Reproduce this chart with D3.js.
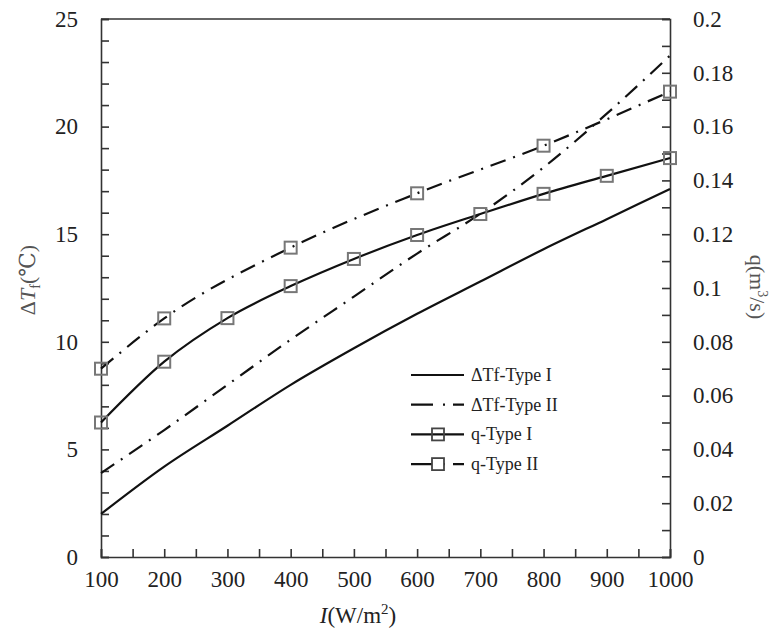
<!DOCTYPE html>
<html>
<head>
<meta charset="utf-8">
<script src="https://cdnjs.cloudflare.com/ajax/libs/d3/7.8.5/d3.min.js"></script>
<style>
  body { margin: 0; background: #fff; }
  svg { font-family: "Liberation Serif", "DejaVu Serif", serif; }
  .tickLabel { font-size: 23px; fill: #222; }
  .legText { font-size: 18px; fill: #222; }
</style>
</head>
<body>
<div id="chart"></div>
<script>
// Data

// Irradiance I (W/m2)
var irr = [100, 200, 300, 400, 500, 600, 700, 800, 900, 1000];

// Temperature rise (left axis)
var dtfType1 = [2.0, 4.2, 6.1, 8.0, 9.7, 11.3, 12.8, 14.3, 15.7, 17.1];
var dtfType2 = [3.9, 5.9, 8.0, 10.1, 12.1, 14.1, 15.95, 18.1, 20.6, 23.3];

// Flow rate (right axis)
var qType1 = [0.050, 0.0726, 0.0888, 0.1007, 0.1108, 0.1197, 0.1275, 0.135, 0.1417, 0.1483];
var irrQ2 = [100, 200, 400, 600, 800, 1000];
var qType2 = [0.070, 0.0887, 0.115, 0.1352, 0.1529, 0.173];

var xTicks = d3.range(100, 1001, 50);
var yLeftTicks = d3.range(0, 26, 1);
var yRightTicks = d3.range(0, 21, 1).map(function(d) { return d / 100; });

var legendNames = ["\u0394Tf-Type I", "\u0394Tf-Type II", "q-Type I", "q-Type II"];

// Layout
var width = 778;
var height = 637;
var plotL = 101, plotR = 670, plotT = 19, plotB = 557;
var tickLen = 8;
var dashDot = "16,8,2,8";

var svg = d3.select("#chart")
  .append("svg")
  .attr("width", width)
  .attr("height", height);

var xScale = d3.scaleLinear().domain([100, 1000]).range([plotL, plotR]);
var yLeft = d3.scaleLinear().domain([0, 25]).range([plotB, plotT]);
var yRight = d3.scaleLinear().domain([0, 0.2]).range([plotB, plotT]);

// Axes (ticks point inward)
var xAxis = d3.axisBottom(xScale)
  .tickValues(xTicks)
  .tickSize(-tickLen)
  .tickPadding(14)
  .tickFormat(function(d) { return d % 100 === 0 ? d : ""; });

var leftAxis = d3.axisLeft(yLeft)
  .tickValues(yLeftTicks)
  .tickSize(-tickLen)
  .tickPadding(23)
  .tickFormat(function(d) { return d % 5 === 0 ? d : ""; });

var rightAxis = d3.axisRight(yRight)
  .tickValues(yRightTicks)
  .tickSize(-tickLen)
  .tickPadding(23)
  .tickFormat(function(d) {
    var k = Math.round(d * 100);
    return k % 2 === 0 ? String(+d.toFixed(2)) : "";
  });

function styleAxis(g) {
  g.attr("font-family", null).attr("font-size", null);
  g.select(".domain").attr("stroke", "#333").attr("stroke-width", 1.6);
  g.selectAll(".tick line").attr("stroke", "#333").attr("stroke-width", 1.6);
  g.selectAll(".tick text").attr("class", "tickLabel").attr("fill", null);
}

svg.append("g")
  .attr("transform", "translate(0," + plotB + ")")
  .call(xAxis)
  .call(styleAxis);

svg.append("g")
  .attr("transform", "translate(" + plotL + ",0)")
  .call(leftAxis)
  .call(styleAxis);

svg.append("g")
  .attr("transform", "translate(" + plotR + ",0)")
  .call(rightAxis)
  .call(styleAxis);

// Top frame line
svg.append("line")
  .attr("x1", plotL).attr("x2", plotR)
  .attr("y1", plotT).attr("y2", plotT)
  .attr("stroke", "#333")
  .attr("stroke-width", 1.6);

// Lines
var lineLeft = d3.line()
  .x(function(d) { return xScale(d[0]); })
  .y(function(d) { return yLeft(d[1]); })
  .curve(d3.curveMonotoneX);

var lineRight = d3.line()
  .x(function(d) { return xScale(d[0]); })
  .y(function(d) { return yRight(d[1]); })
  .curve(d3.curveMonotoneX);

function pairs(xs, ys) {
  return xs.map(function(x, i) { return [x, ys[i]]; });
}

var series = [
  { pts: pairs(irr, dtfType1), line: lineLeft, yS: yLeft, dash: null, mark: false },
  { pts: pairs(irr, dtfType2), line: lineLeft, yS: yLeft, dash: dashDot, mark: false },
  { pts: pairs(irr, qType1), line: lineRight, yS: yRight, dash: null, mark: true },
  { pts: pairs(irrQ2, qType2), line: lineRight, yS: yRight, dash: dashDot, mark: true }
];

series.forEach(function(s) {
  svg.append("path")
    .attr("d", s.line(s.pts))
    .attr("fill", "none")
    .attr("stroke", "#111")
    .attr("stroke-width", 2.2)
    .attr("stroke-dasharray", s.dash);

  if (s.mark) {
    svg.selectAll(null)
      .data(s.pts)
      .enter()
      .append("rect")
      .attr("x", function(d) { return xScale(d[0]) - 6; })
      .attr("y", function(d) { return s.yS(d[1]) - 6; })
      .attr("width", 12)
      .attr("height", 12)
      .attr("fill", "none")
      .attr("stroke", "#777")
      .attr("stroke-width", 2);
  }
});

// Legend
var legX = 411, legW = 53, legY0 = 375, legStep = 29.7;
var leg = svg.append("g");

series.forEach(function(s, i) {
  var yy = legY0 + i * legStep;
  leg.append("line")
    .attr("x1", legX).attr("x2", legX + legW)
    .attr("y1", yy).attr("y2", yy)
    .attr("stroke", "#111")
    .attr("stroke-width", 2.2)
    .attr("stroke-dasharray", s.dash ? "22,10,2,8,12" : null);
  if (s.mark) {
    leg.append("rect")
      .attr("x", legX + 27 - 6).attr("y", yy - 6)
      .attr("width", 12).attr("height", 12)
      .attr("fill", s.dash ? "#fff" : "none")
      .attr("stroke", "#444")
      .attr("stroke-width", 1.8);
  }
  leg.append("text")
    .attr("class", "legText")
    .attr("x", legX + legW + 7)
    .attr("y", yy + 6)
    .text(legendNames[i]);
});

// Axis titles
var xTitle = svg.append("text")
  .attr("x", 358)
  .attr("y", 623)
  .attr("text-anchor", "middle")
  .attr("font-size", 23)
  .attr("fill", "#222");
xTitle.append("tspan").attr("font-style", "italic").text("I");
xTitle.append("tspan").text("(W/m");
xTitle.append("tspan").attr("font-size", 15).attr("dy", -9).text("2");
xTitle.append("tspan").attr("dy", 9).text(")");

var yTitle = svg.append("text")
  .attr("transform", "translate(35,280)rotate(-90)")
  .attr("text-anchor", "middle")
  .attr("font-size", 22)
  .attr("fill", "#555");
yTitle.append("tspan").text("\u0394");
yTitle.append("tspan").attr("font-style", "italic").text("T");
yTitle.append("tspan").attr("font-size", 14).attr("dy", 5).text("f");
yTitle.append("tspan").attr("dy", -5).text("(\u2103)");

var rTitle = svg.append("text")
  .attr("transform", "translate(750,287)rotate(90)")
  .attr("text-anchor", "middle")
  .attr("font-size", 22)
  .attr("fill", "#555");
rTitle.append("tspan").text("q(m");
rTitle.append("tspan").attr("font-size", 14).attr("dy", -8).text("3");
rTitle.append("tspan").attr("dy", 8).text("/s)");
</script>
</body>
</html>
